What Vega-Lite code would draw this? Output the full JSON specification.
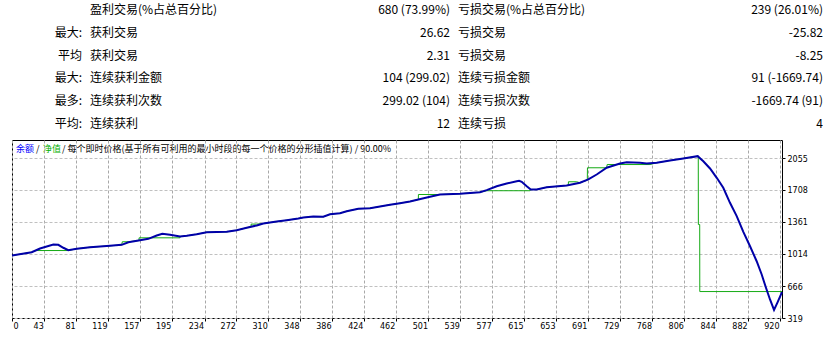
{
  "$schema": "https://vega.github.io/schema/vega-lite/v6.json",
  "padding": {"left": 7, "top": 0, "right": 0, "bottom": 0},
  "background": "white",
  "spacing": 0,
  "bounds": "flush",
  "config": {
    "view": {"stroke": "#000000", "strokeWidth": 1},
    "axis": {
      "labelFont": "DejaVu Sans",
      "labelFontSize": 8,
      "labelColor": "#000000",
      "tickColor": "#000000",
      "tickSize": 3,
      "domain": false,
      "labelOverlap": false
    }
  },
  "datasets": {
    "lines": [
      {"s": "e", "x": 4.5, "y": 997}, {"s": "e", "x": 28, "y": 1033}, {"s": "e", "x": 33.1, "y": 1051}, {"s": "e", "x": 71.3, "y": 1051},
      {"s": "e", "x": 81.7, "y": 1070}, {"s": "e", "x": 97.5, "y": 1087}, {"s": "e", "x": 121.3, "y": 1102}, {"s": "e", "x": 135.3, "y": 1113},
      {"s": "e", "x": 136, "y": 1146}, {"s": "e", "x": 143.2, "y": 1146}, {"s": "e", "x": 155.9, "y": 1160}, {"s": "e", "x": 156, "y": 1189},
      {"s": "e", "x": 204.8, "y": 1189}, {"s": "e", "x": 205, "y": 1203}, {"s": "e", "x": 212.8, "y": 1211}, {"s": "e", "x": 224.7, "y": 1228},
      {"s": "e", "x": 236.6, "y": 1250}, {"s": "e", "x": 260.5, "y": 1254}, {"s": "e", "x": 272.4, "y": 1272}, {"s": "e", "x": 284.3, "y": 1298},
      {"s": "e", "x": 289.5, "y": 1310}, {"s": "e", "x": 289.6, "y": 1338}, {"s": "e", "x": 296.2, "y": 1338}, {"s": "e", "x": 304.1, "y": 1344},
      {"s": "e", "x": 320.1, "y": 1366}, {"s": "e", "x": 332, "y": 1380}, {"s": "e", "x": 345.8, "y": 1399}, {"s": "e", "x": 351.8, "y": 1409},
      {"s": "e", "x": 363.7, "y": 1420}, {"s": "e", "x": 375.6, "y": 1417}, {"s": "e", "x": 383.6, "y": 1445}, {"s": "e", "x": 395.5, "y": 1456},
      {"s": "e", "x": 403.5, "y": 1478}, {"s": "e", "x": 417.3, "y": 1504}, {"s": "e", "x": 431.3, "y": 1510}, {"s": "e", "x": 443.2, "y": 1529},
      {"s": "e", "x": 455.1, "y": 1547}, {"s": "e", "x": 467, "y": 1565}, {"s": "e", "x": 478.9, "y": 1583}, {"s": "e", "x": 488.9, "y": 1605},
      {"s": "e", "x": 489, "y": 1659}, {"s": "e", "x": 514.7, "y": 1659}, {"s": "e", "x": 538.6, "y": 1667}, {"s": "e", "x": 562.4, "y": 1684},
      {"s": "e", "x": 570.4, "y": 1700}, {"s": "e", "x": 622, "y": 1700}, {"s": "e", "x": 622.9, "y": 1713}, {"s": "e", "x": 630, "y": 1713},
      {"s": "e", "x": 641.9, "y": 1738}, {"s": "e", "x": 665.7, "y": 1757}, {"s": "e", "x": 667.7, "y": 1758}, {"s": "e", "x": 667.8, "y": 1797},
      {"s": "e", "x": 677.7, "y": 1797}, {"s": "e", "x": 681.6, "y": 1786}, {"s": "e", "x": 690.3, "y": 1815}, {"s": "e", "x": 690.5, "y": 1949},
      {"s": "e", "x": 713.4, "y": 1949}, {"s": "e", "x": 714, "y": 1984}, {"s": "e", "x": 765, "y": 1984}, {"s": "e", "x": 773, "y": 2003},
      {"s": "e", "x": 788.9, "y": 2028}, {"s": "e", "x": 804.7, "y": 2050}, {"s": "e", "x": 821.9, "y": 2075}, {"s": "e", "x": 822.6, "y": 2075},
      {"s": "e", "x": 822.7, "y": 1333}, {"s": "e", "x": 824.3, "y": 1333}, {"s": "e", "x": 824.4, "y": 606}, {"s": "e", "x": 922.4, "y": 606},
      {"s": "b", "x": 4.5, "y": 997}, {"s": "b", "x": 28, "y": 1033}, {"s": "b", "x": 37.9, "y": 1073}, {"s": "b", "x": 53.8, "y": 1116},
      {"s": "b", "x": 59.7, "y": 1113}, {"s": "b", "x": 65.7, "y": 1081}, {"s": "b", "x": 71.6, "y": 1055}, {"s": "b", "x": 81.7, "y": 1070},
      {"s": "b", "x": 97.5, "y": 1087}, {"s": "b", "x": 121.3, "y": 1102}, {"s": "b", "x": 135.3, "y": 1113}, {"s": "b", "x": 143.2, "y": 1141},
      {"s": "b", "x": 157.1, "y": 1163}, {"s": "b", "x": 167, "y": 1178}, {"s": "b", "x": 177, "y": 1214}, {"s": "b", "x": 183.7, "y": 1233},
      {"s": "b", "x": 192.9, "y": 1222}, {"s": "b", "x": 204.8, "y": 1203}, {"s": "b", "x": 212.8, "y": 1211}, {"s": "b", "x": 224.7, "y": 1228},
      {"s": "b", "x": 236.6, "y": 1250}, {"s": "b", "x": 260.5, "y": 1254}, {"s": "b", "x": 272.4, "y": 1272}, {"s": "b", "x": 284.3, "y": 1298},
      {"s": "b", "x": 296.2, "y": 1323}, {"s": "b", "x": 304.1, "y": 1344}, {"s": "b", "x": 320.1, "y": 1366}, {"s": "b", "x": 332, "y": 1380},
      {"s": "b", "x": 345.8, "y": 1399}, {"s": "b", "x": 351.8, "y": 1409}, {"s": "b", "x": 363.7, "y": 1420}, {"s": "b", "x": 375.6, "y": 1417},
      {"s": "b", "x": 383.6, "y": 1445}, {"s": "b", "x": 395.5, "y": 1456}, {"s": "b", "x": 403.5, "y": 1478}, {"s": "b", "x": 417.3, "y": 1504},
      {"s": "b", "x": 431.3, "y": 1510}, {"s": "b", "x": 443.2, "y": 1529}, {"s": "b", "x": 455.1, "y": 1547}, {"s": "b", "x": 467, "y": 1565},
      {"s": "b", "x": 478.9, "y": 1583}, {"s": "b", "x": 488.9, "y": 1605}, {"s": "b", "x": 502.8, "y": 1634}, {"s": "b", "x": 514.7, "y": 1659},
      {"s": "b", "x": 538.6, "y": 1667}, {"s": "b", "x": 562.4, "y": 1684}, {"s": "b", "x": 570.4, "y": 1706}, {"s": "b", "x": 582.3, "y": 1749},
      {"s": "b", "x": 594.2, "y": 1778}, {"s": "b", "x": 606.2, "y": 1803}, {"s": "b", "x": 609, "y": 1808}, {"s": "b", "x": 612.1, "y": 1797},
      {"s": "b", "x": 618.1, "y": 1749}, {"s": "b", "x": 622.9, "y": 1713}, {"s": "b", "x": 630, "y": 1713}, {"s": "b", "x": 641.9, "y": 1738},
      {"s": "b", "x": 665.7, "y": 1757}, {"s": "b", "x": 681.6, "y": 1786}, {"s": "b", "x": 691.5, "y": 1822}, {"s": "b", "x": 701.5, "y": 1876},
      {"s": "b", "x": 713.4, "y": 1949}, {"s": "b", "x": 729.3, "y": 1995}, {"s": "b", "x": 737.3, "y": 2009}, {"s": "b", "x": 753.1, "y": 2003},
      {"s": "b", "x": 761.1, "y": 1995}, {"s": "b", "x": 773, "y": 2003}, {"s": "b", "x": 788.9, "y": 2028}, {"s": "b", "x": 804.7, "y": 2050},
      {"s": "b", "x": 821.9, "y": 2075}, {"s": "b", "x": 828.6, "y": 2020}, {"s": "b", "x": 836.6, "y": 1941}, {"s": "b", "x": 844.6, "y": 1840},
      {"s": "b", "x": 852.4, "y": 1732}, {"s": "b", "x": 860.4, "y": 1569}, {"s": "b", "x": 868.4, "y": 1424}, {"s": "b", "x": 876.3, "y": 1254},
      {"s": "b", "x": 884.3, "y": 1098}, {"s": "b", "x": 892.2, "y": 935}, {"s": "b", "x": 898.2, "y": 791}, {"s": "b", "x": 903.3, "y": 647},
      {"s": "b", "x": 908.1, "y": 520}, {"s": "b", "x": 912.9, "y": 406}, {"s": "b", "x": 916.8, "y": 484}, {"s": "b", "x": 922.4, "y": 600}
    ],
    "texts": [
      {"r": 0, "c": 1, "k": "t", "t": "盈利交易(%占总百分比)"}, {"r": 0, "c": 2, "k": "t", "t": "680 (73.99%)"}, {"r": 0, "c": 3, "k": "t", "t": "亏损交易(%占总百分比)"}, {"r": 0, "c": 4, "k": "t", "t": "239 (26.01%)"},
      {"r": 1, "c": 0, "k": "t", "t": "最大:"}, {"r": 1, "c": 1, "k": "t", "t": "获利交易"}, {"r": 1, "c": 2, "k": "t", "t": "26.62"}, {"r": 1, "c": 3, "k": "t", "t": "亏损交易"}, {"r": 1, "c": 4, "k": "t", "t": "-25.82"},
      {"r": 2, "c": 0, "k": "t", "t": "平均"}, {"r": 2, "c": 1, "k": "t", "t": "获利交易"}, {"r": 2, "c": 2, "k": "t", "t": "2.31"}, {"r": 2, "c": 3, "k": "t", "t": "亏损交易"}, {"r": 2, "c": 4, "k": "t", "t": "-8.25"},
      {"r": 3, "c": 0, "k": "t", "t": "最大:"}, {"r": 3, "c": 1, "k": "t", "t": "连续获利金额"}, {"r": 3, "c": 2, "k": "t", "t": "104 (299.02)"}, {"r": 3, "c": 3, "k": "t", "t": "连续亏损金额"}, {"r": 3, "c": 4, "k": "t", "t": "91 (-1669.74)"},
      {"r": 4, "c": 0, "k": "t", "t": "最多:"}, {"r": 4, "c": 1, "k": "t", "t": "连续获利次数"}, {"r": 4, "c": 2, "k": "t", "t": "299.02 (104)"}, {"r": 4, "c": 3, "k": "t", "t": "连续亏损次数"}, {"r": 4, "c": 4, "k": "t", "t": "-1669.74 (91)"},
      {"r": 5, "c": 0, "k": "t", "t": "平均:"}, {"r": 5, "c": 1, "k": "t", "t": "连续获利"}, {"r": 5, "c": 2, "k": "t", "t": "12"}, {"r": 5, "c": 3, "k": "t", "t": "连续亏损"}, {"r": 5, "c": 4, "k": "t", "t": "4"},
      {"r": 6, "c": 5, "k": "b", "t": "余额"},
      {"r": 6, "c": 6, "k": "t", "t": "/"},
      {"r": 6, "c": 7, "k": "e", "t": "净值"},
      {"r": 6, "c": 8, "k": "t", "t": "/ 每个即时价格(基于所有可利用的最小时段的每一个价格的分形插值计算) / 90.00%"}
    ]
  },
  "vconcat": [
    {
      "width": 770,
      "height": 140,
      "view": {"stroke": null},
      "data": {"name": "texts"},
      "layer": [
        {
          "transform": [{"filter": "datum.c == 1 || datum.c == 3"}],
          "mark": {"type": "text", "align": "left", "baseline": "middle", "font": "Noto Sans CJK SC", "fontSize": 12, "color": "#000000"},
          "encoding": {
            "x": {"field": "c", "type": "quantitative", "scale": {"domain": [0, 1, 2, 3, 4, 5, 6, 7, 8], "range": [70, 78, 438, 446, 811, 4, 24, 31, 50], "nice": false, "zero": false}, "axis": null},
            "y": {"field": "r", "type": "quantitative", "scale": {"domain": [0, 5, 6], "range": [10, 124, 149], "nice": false, "zero": false}, "axis": null},
            "text": {"field": "t"}
          }
        },
        {
          "transform": [{"filter": "datum.c == 0 || datum.c == 2 || datum.c == 4"}],
          "mark": {"type": "text", "align": "right", "baseline": "middle", "font": "Noto Sans CJK SC", "fontSize": 12, "color": "#000000"},
          "encoding": {
            "x": {"field": "c", "type": "quantitative"},
            "y": {"field": "r", "type": "quantitative"},
            "text": {"field": "t"}
          }
        },
        {
          "transform": [{"filter": "datum.c >= 5"}],
          "mark": {"type": "text", "align": "left", "baseline": "middle", "font": "Noto Sans CJK SC", "fontSize": 9},
          "encoding": {
            "x": {"field": "c", "type": "quantitative"},
            "y": {"field": "r", "type": "quantitative"},
            "color": {"field": "k", "type": "nominal", "scale": {"domain": ["b", "e", "t"], "range": ["#0000ff", "#00b000", "#000000"]}, "legend": null},
            "text": {"field": "t"}
          }
        }
      ]
    },
    {
      "width": 770,
      "height": 178,
      "data": {"name": "lines"},
      "layer": [
        {
          "transform": [{"filter": "datum.s == 'e'"}],
          "mark": {"type": "line", "color": "#14aa14", "strokeWidth": 1},
          "encoding": {
            "x": {
              "field": "x", "type": "quantitative",
              "scale": {"domain": [4.5, 922.4], "nice": false, "zero": false},
              "axis": {
                "title": null,
                "values": [4.5, 43, 81, 119, 157, 195, 234, 272, 310, 348, 386, 424, 462, 501, 539, 577, 615, 653, 691, 729, 768, 806, 844, 882, 920],
                "tickCount": 100,
                "format": "d",
                "labelExpr": "datum.value < 10 ? '0' : datum.label",
                "labelAlign": {"condition": {"test": "datum.value < 10", "value": "left"}, "value": "right"},
                "labelOffset": {"condition": {"test": "datum.value < 10", "value": 1}, "value": -1},
                "labelBaseline": "top",
                "labelPadding": 1,
                "labelOverlap": false,
                "labelFlush": false,
                "grid": true,
                "gridColor": "#a8a8a8",
                "gridDash": [3, 2],
                "gridWidth": 1
              }
            },
            "y": {
              "field": "y", "type": "quantitative",
              "scale": {"domain": [319, 2250.3], "nice": false, "zero": false},
              "axis": {
                "title": null,
                "orient": "right",
                "values": [319, 666, 1014, 1361, 1708, 2055],
                "tickCount": 100,
                "format": "d",
                "labelAlign": "left",
                "labelBaseline": "middle",
                "labelOffset": 1,
                "labelPadding": 2,
                "labelOverlap": false,
                "labelFlush": false,
                "grid": true,
                "gridColor": "#c0c0c0",
                "gridDash": [3, 2],
                "gridWidth": 1
              }
            }
          }
        },
        {
          "transform": [{"filter": "datum.s == 'b'"}],
          "mark": {"type": "line", "color": "#0000a8", "strokeWidth": 2},
          "encoding": {
            "x": {"field": "x", "type": "quantitative"},
            "y": {"field": "y", "type": "quantitative"}
          }
        }
      ]
    }
  ]
}
